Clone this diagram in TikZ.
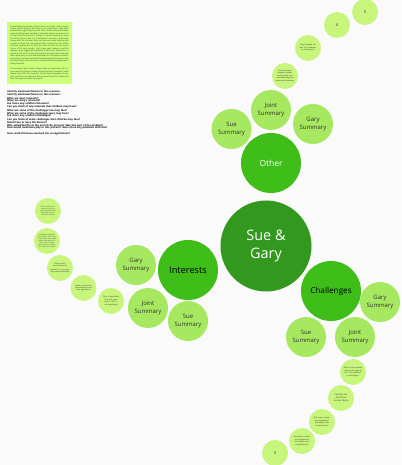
\documentclass[tikz,border=0pt]{standalone}
\usepackage{fontspec}
\setmainfont{Open Sans}
\definecolor{bgc}{HTML}{FAFAFA}
\definecolor{rootc}{HTML}{33991E}
\definecolor{lonec}{HTML}{3FBE19}
\definecolor{ltwoc}{HTML}{A6E85F}
\definecolor{lthreec}{HTML}{C8F57C}
\definecolor{boxc}{HTML}{CCFF7A}
\definecolor{txtc}{HTML}{333333}
\tikzset{
  rootnode/.style={circle, fill=rootc, minimum size=91bp, inner sep=0pt, text=white, align=center, font=\fontsize{14.5}{19}\selectfont},
  lonenode/.style={circle, fill=lonec, minimum size=60bp, inner sep=0pt, align=center, font=\fontsize{8.5}{10}\selectfont},
  ltwonode/.style={circle, fill=ltwoc, minimum size=40bp, inner sep=0pt, align=center, text=txtc, font=\fontsize{6}{7.8}\selectfont},
  lthreenode/.style={circle, fill=lthreec, minimum size=26bp, inner sep=0pt, text width=19bp, align=center, text=txtc, font=\fontsize{1.9}{2.5}\selectfont},
  numnode/.style={circle, fill=lthreec, minimum size=26bp, inner sep=0pt, align=center, text=txtc, font=\fontsize{4}{5}\selectfont},
}
\begin{document}
\begin{tikzpicture}[x=1bp,y=-1bp]
\fill[bgc] (0,0) rectangle (401,465);
\useasboundingbox (0,0) rectangle (401,465);

% story box
\node[anchor=north west, fill=boxc, text width=58bp, inner sep=3.3bp, text=txtc, align=justify, font=\fontsize{2.05}{2.48}\selectfont] (story) at (7,22) {Sue and Gary have been married for nine years. Sue is a paid home school teacher and Gary is an accountant; they have two children, aged eight and six. Their relationship has broken down and they have decided to separate. Gary has moved out of the family home and is living in a rented apartment near his office, close to the city. Sue wants to remain in the family home with the children, who she believes need stability and routine at this time. Gary would like to share the care of the children equally and to sell the house so that he can buy a home of his own nearby. Both have seen lawyers, and the lawyers have suggested mediation before any application is made to the court. At the first session Sue was upset and said little, while Gary set out a detailed plan for the property and for parenting. Sue later said she felt pressured by the process and by Gary's plan, and the session ended without any agreement being reached.\par\vspace{3.4bp}
Some weeks later, Gary's lawyer filed an application for divorce and for property orders, which Sue did not expect. Sue's lawyer says that the mediator should have stopped the session, and Sue now feels that the process has let her down and that she was not heard by anyone.};

% questions
\node[anchor=north west, inner sep=0pt, text width=115bp, align=left, text=black, font=\fontsize{2.5}{2.7}\selectfont\bfseries] (qs) at (7,90.5) {Identify emotions/themes in this scenario.\\
Identify emotions/themes in this scenario.\\[1.3bp]
What are Sue's interests?\\
What are Gary's interests?\\
Are there any conflicts/interests?\\
Can you think of any interests that children may have?\\[1.3bp]
What are some of the challenges Sue may face?\\
What are some of the challenges Gary may face?\\
Are there any conflicts/challenges?\\[1.3bp]
Can you think of some challenges that children may face?\\
Should Sue or Gary file divorce?\\
Who asked/did file at the end of the process? Was this part of the problem?\\
How would mediation play in this process? Were there any problems with this?\\[2.6bp]
How could this have resolved the in-negotiations?};

% root
\node[rootnode] (root) at (266,246) {Sue \&\\Gary};

% level one
\node[lonenode, text=white] (other) at (271,163) {Other};
\node[lonenode, text=black, font=\fontsize{9.3}{11}\selectfont] (interests) at (188,270) {Interests};
\node[lonenode, text=black, font=\fontsize{8.2}{10}\selectfont] (challenges) at (331,291) {Challenges};

% Other group
\node[ltwonode] (osue) at (231.5,129) {Sue\\Summary};
\node[ltwonode] (ojoint) at (271,110) {Joint\\Summary};
\node[ltwonode] (ogary) at (313,124) {Gary\\Summary};
\node[lthreenode] (oa) at (285,76) {Communication between parties and possibly misunderstanding with lawyer and mediator};
\node[lthreenode] (ob) at (308,48) {Who dropped the ball? The mediator or the lawyer?};
\node[numnode] (oc) at (337,25) {4};
\node[numnode] (od) at (365,12) {5};

% Interests group
\node[ltwonode] (igary) at (136,265) {Gary\\Summary};
\node[ltwonode] (ijoint) at (148,308) {Joint\\Summary};
\node[ltwonode] (isue) at (188,321) {Sue\\Summary};
\node[lthreenode] (ia) at (111,301) {Who is benefiting from the separation? Who is not benefiting?};
\node[lthreenode] (ib) at (83.5,288) {What are the best considerations and how significant?};
\node[lthreenode] (ic) at (60,268) {Both parties want the world.\\[0.6bp] Hopeful: Sue is only they share (satisfied)};
\node[lthreenode, font=\fontsize{1.6}{2.1}\selectfont] (id) at (47,241) {Sue wants stability for the children and to stay in the home; Gary wants shared care and a fair share of the house; both want the children to be safe and settled};
\node[lthreenode, font=\fontsize{1.6}{2.1}\selectfont] (ie) at (48,211) {Sue's and Gary's interests are not the same, but both want a fair and quick result for the family};

% Challenges group
\node[ltwonode] (cgary) at (380,302) {Gary\\Summary};
\node[ltwonode] (csue) at (306,337) {Sue\\Summary};
\node[ltwonode] (cjoint) at (355,337) {Joint\\Summary};
\node[lthreenode] (ca) at (353,372) {Which of the parties is giving the legal advice - the mediator or the lawyer?};
\node[lthreenode, font=\fontsize{2.2}{2.8}\selectfont] (cb) at (341,398) {Possibly mediator/low income family};
\node[lthreenode] (cc) at (322,422) {Was there a property agreement that might have complications?};
\node[lthreenode] (cd) at (302,441) {Was there a property agreement that might have complications?};
\node[numnode] (ce) at (275,453) {5};
\end{tikzpicture}
\end{document}
